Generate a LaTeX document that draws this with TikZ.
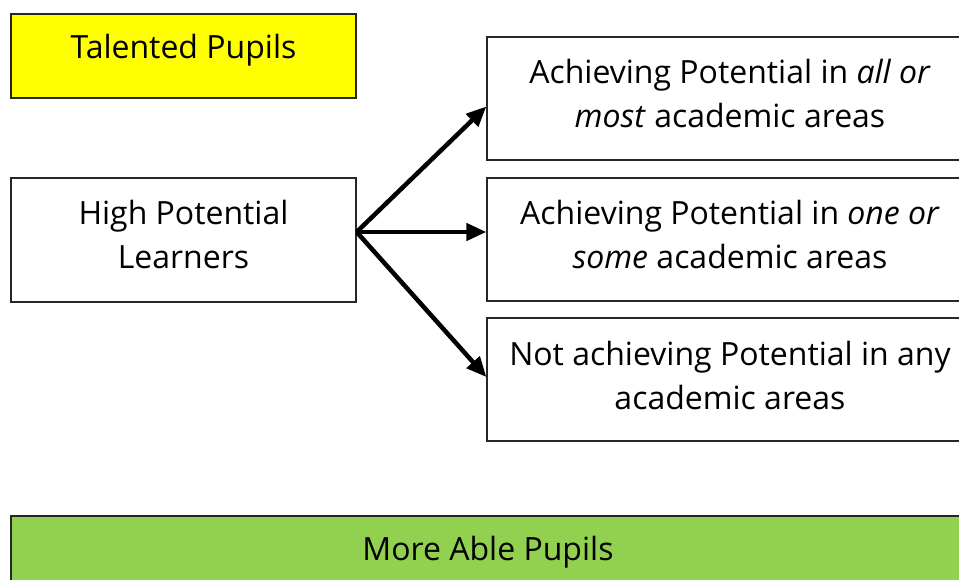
\documentclass[tikz,border=0pt]{standalone}
\usepackage{fontspec}
\setmainfont{Open Sans}
\usetikzlibrary{arrows.meta}
\definecolor{yellowc}{HTML}{FFFF00}
\definecolor{greenc}{HTML}{92D050}
\begin{document}
\begin{tikzpicture}[x=1pt,y=-1pt,
  box/.style={draw=black!85, line width=1.3pt, inner sep=0pt},
  lbl/.style={align=center, inner sep=0pt, font=\fontsize{32}{44}\selectfont},
  arr/.style={line width=4.5pt, -{Triangle[length=20pt,width=17pt]}}]
\useasboundingbox (0,0) rectangle (959,580);
\node[box, fill=yellowc, minimum width=345pt, minimum height=84pt] (tal) at (183.5,56) {};
\node[lbl] (talt) at (183.5,50) {Talented Pupils};
\node[box, fill=white, minimum width=345pt, minimum height=124pt] (hpl) at (183.5,240) {};
\node[lbl] (hplt) at (183.5,235) {High Potential\\Learners};
\node[box, fill=white, minimum width=486pt, minimum height=123pt] (a1) at (730,98.5) {};
\node[lbl] (a1t) at (730,94) {Achieving Potential in \textit{all or}\\\textit{most} academic areas};
\node[box, fill=white, minimum width=486pt, minimum height=123pt] (a2) at (730,239.5) {};
\node[lbl] (a2t) at (730,235) {Achieving Potential in \textit{one or}\\\textit{some} academic areas};
\node[box, fill=white, minimum width=486pt, minimum height=123pt] (a3) at (730,379.5) {};
\node[lbl] (a3t) at (730,375) {Not achieving Potential in any\\academic areas};
\node[box, fill=greenc, minimum width=954pt, minimum height=68pt] (map) at (488,550) {};
\node[lbl] (mapt) at (488,552) {More Able Pupils};
\coordinate (s) at ([yshift=8pt]hpl.east);
\draw[arr] (s) -- ([yshift=-8pt]a1.west);
\draw[arr] (s) -- ([yshift=7.5pt]a2.west);
\draw[arr] (s) -- ([yshift=2.5pt]a3.west);
\end{tikzpicture}
\end{document}
